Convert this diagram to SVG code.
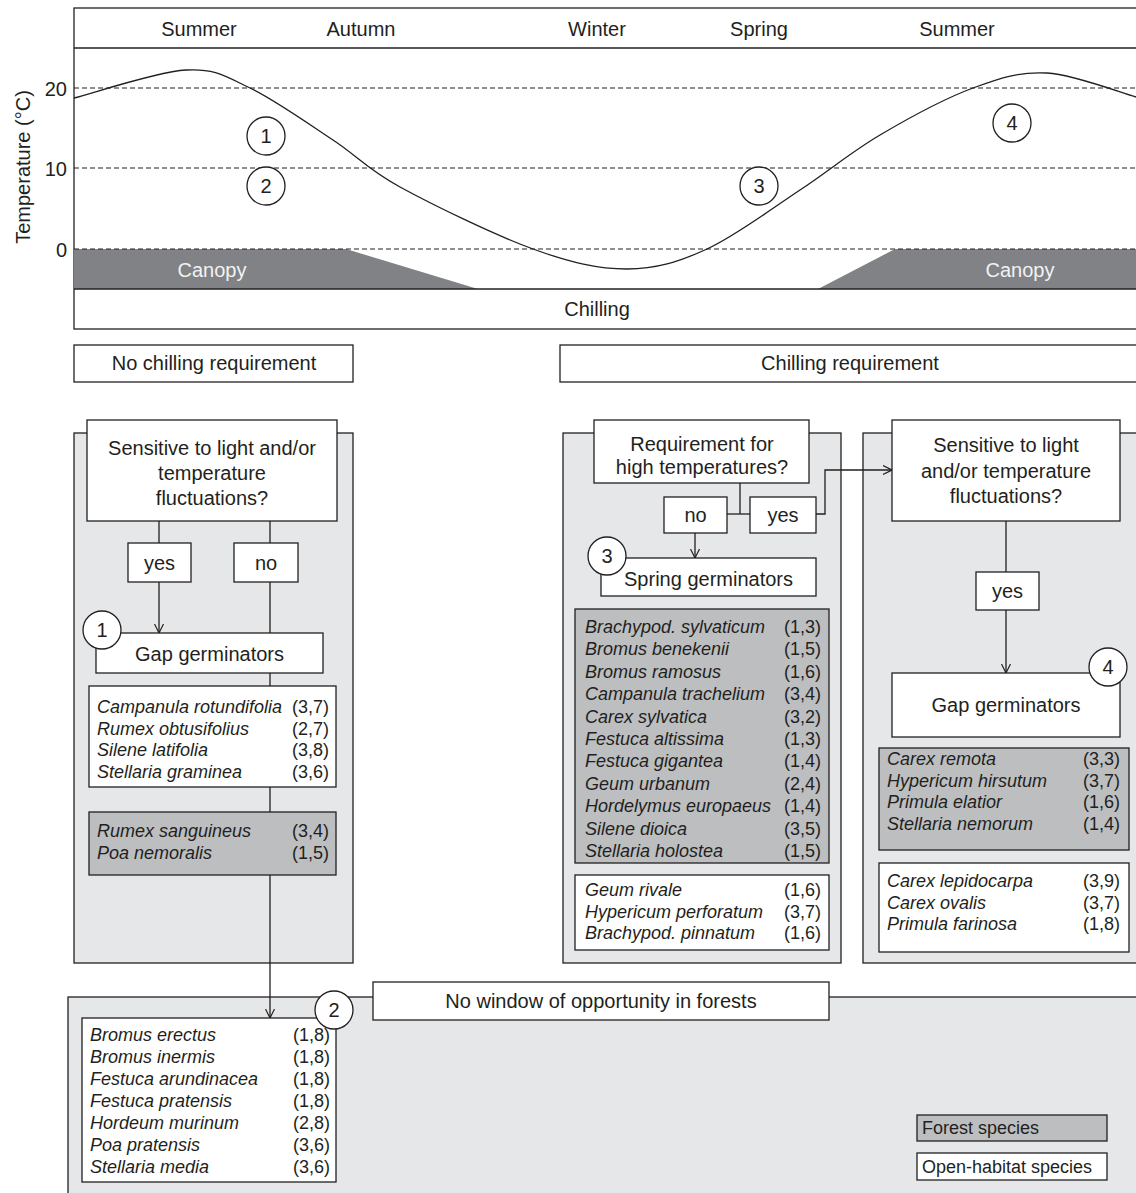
<svg xmlns="http://www.w3.org/2000/svg" width="1136" height="1193" viewBox="0 0 1136 1193">
<defs>
<style>
.t{font-family:"Liberation Sans",Arial,Helvetica,sans-serif;fill:#231f20}
.h{font-size:20px;text-anchor:middle}
.l{font-size:18px;font-style:italic}
.n{font-size:18px;text-anchor:end}
.box{fill:#fff;stroke:#231f20;stroke-width:1.3}
.panel{fill:#e6e7e8;stroke:#231f20;stroke-width:1.3}
.forest{fill:#bcbec0;stroke:#231f20;stroke-width:1.3}
.ln{fill:none;stroke:#231f20;stroke-width:1.3}
.dash{stroke:#231f20;stroke-width:1;stroke-dasharray:5 3}
.circ{fill:#fff;stroke:#231f20;stroke-width:1.3}
</style>
<marker id="arr" viewBox="0 0 10 10" refX="10" refY="5" markerWidth="9" markerHeight="11" markerUnits="userSpaceOnUse" orient="auto">
<path d="M0,0 L10,5 L0,10" fill="none" stroke="#231f20" stroke-width="1.3"/>
</marker>
</defs>
<rect width="1136" height="1193" fill="#fff"/>

<!-- Top chart -->
<g id="chart">
<rect x="74" y="8" width="1100" height="321" fill="#fff" stroke="#231f20" stroke-width="1.3"/>
<line x1="74" y1="48" x2="1136" y2="48" class="ln"/>
<polygon points="74,249 346,249 478,289 74,289" fill="#808285"/>
<polygon points="895,249 1136,249 1136,289 818,289" fill="#808285"/>
<line x1="74" y1="88" x2="1136" y2="88" class="dash"/>
<line x1="74" y1="168" x2="1136" y2="168" class="dash"/>
<line x1="74" y1="249" x2="1136" y2="249" class="dash"/>
<line x1="74" y1="289" x2="1136" y2="289" class="ln"/>
<path class="ln" stroke-width="1.6" d="M74,98 C92.7,93.3 156.7,71.7 186,70 C215.3,68.3 225.5,76.3 250,88 C274.5,99.7 308,123.5 333,140 C358,156.5 366.7,168.8 400,187 C433.3,205.2 495.2,235.3 533,249 C570.8,262.7 598,269 627,269 C656,269 678.2,262.2 707,249 C735.8,235.8 771.2,209 800,190 C828.8,171 851.2,152 880,135 C908.8,118 945.2,98.3 973,88 C1000.8,77.7 1019.8,71.5 1047,73 C1074.2,74.5 1121.2,93 1136,97"/>
<text class="t h" x="199" y="36">Summer</text>
<text class="t h" x="361" y="36">Autumn</text>
<text class="t h" x="597" y="36">Winter</text>
<text class="t h" x="759" y="36">Spring</text>
<text class="t h" x="957" y="36">Summer</text>
<text class="t h" x="212" y="277" style="fill:#f2f2f2">Canopy</text>
<text class="t h" x="1020" y="277" style="fill:#f2f2f2">Canopy</text>
<text class="t h" x="597" y="316">Chilling</text>
<text class="t" font-size="20" text-anchor="end" x="67" y="96">20</text>
<text class="t" font-size="20" text-anchor="end" x="67" y="176">10</text>
<text class="t" font-size="20" text-anchor="end" x="67" y="257">0</text>
<text class="t h" transform="translate(30,167) rotate(-90)">Temperature (°C)</text>
<circle class="circ" cx="266" cy="136" r="19"/><text class="t h" x="266" y="143">1</text>
<circle class="circ" cx="266" cy="186" r="19"/><text class="t h" x="266" y="193">2</text>
<circle class="circ" cx="759" cy="186" r="19"/><text class="t h" x="759" y="193">3</text>
<circle class="circ" cx="1012" cy="123" r="19"/><text class="t h" x="1012" y="130">4</text>
</g>

<g id="no-chilling-label">
<rect class="box" x="74" y="345" width="279" height="37"/>
<text class="t h" x="214" y="370">No chilling requirement</text>
</g>
<g id="chilling-label">
<rect class="box" x="560" y="345" width="600" height="37"/>
<text class="t h" x="850" y="370">Chilling requirement</text>
</g>

<!-- Panels (backgrounds) -->
<g id="panel-left"><rect class="panel" x="74" y="433" width="279" height="530"/></g>
<g id="panel-middle"><rect class="panel" x="563" y="433" width="278" height="530"/></g>
<g id="panel-right"><rect class="panel" x="863" y="433" width="300" height="530"/></g>
<g id="panel-bottom"><rect class="panel" x="68" y="997" width="1100" height="220"/></g>

<!-- Connectors -->
<g id="connectors">
<line class="ln" x1="159" y1="521" x2="159" y2="543"/>
<line class="ln" x1="159" y1="582" x2="159" y2="633" marker-end="url(#arr)"/>
<line class="ln" x1="270" y1="521" x2="270" y2="543"/>
<line class="ln" x1="270" y1="582" x2="270" y2="633"/>
<line class="ln" x1="270" y1="673" x2="270" y2="686"/>
<line class="ln" x1="270" y1="787" x2="270" y2="812"/>
<line class="ln" x1="270" y1="875" x2="270" y2="1018" marker-end="url(#arr)"/>
<polyline class="ln" points="740,483 740,514"/>
<line class="ln" x1="727" y1="514" x2="750" y2="514"/>
<line class="ln" x1="695" y1="533" x2="695" y2="558" marker-end="url(#arr)"/>
<polyline class="ln" points="816,514 825,514 825,470 892,470" marker-end="url(#arr)"/>
<line class="ln" x1="1006" y1="521" x2="1006" y2="572"/>
<line class="ln" x1="1006" y1="610" x2="1006" y2="673" marker-end="url(#arr)"/>
</g>

<!-- Left panel nodes -->
<g id="q-left">
<rect class="box" x="87" y="420" width="250" height="101"/>
<text class="t h" x="212" y="455">Sensitive to light and/or</text>
<text class="t h" x="212" y="480">temperature</text>
<text class="t h" x="212" y="505">fluctuations?</text>
</g>
<g id="yes-left"><rect class="box" x="128" y="543" width="63" height="39"/><text class="t h" x="159.5" y="570">yes</text></g>
<g id="no-left"><rect class="box" x="234" y="543" width="64" height="39"/><text class="t h" x="266" y="570">no</text></g>
<g id="gap-left">
<rect class="box" x="96" y="633" width="227" height="40"/>
<text class="t h" x="209.5" y="661">Gap germinators</text>
<circle class="circ" cx="102" cy="630" r="19"/><text class="t h" x="102" y="637">1</text>
</g>
<g id="list-left-open">
<rect class="box" x="89" y="686" width="247" height="101"/>
<text class="t l" x="97" y="713">Campanula rotundifolia</text><text class="t n" x="329" y="713">(3,7)</text>
<text class="t l" x="97" y="734.7">Rumex obtusifolius</text><text class="t n" x="329" y="734.7">(2,7)</text>
<text class="t l" x="97" y="756.3">Silene latifolia</text><text class="t n" x="329" y="756.3">(3,8)</text>
<text class="t l" x="97" y="778">Stellaria graminea</text><text class="t n" x="329" y="778">(3,6)</text>
</g>
<g id="list-left-forest">
<rect class="forest" x="89" y="812" width="247" height="63"/>
<text class="t l" x="97" y="837">Rumex sanguineus</text><text class="t n" x="329" y="837">(3,4)</text>
<text class="t l" x="97" y="859">Poa nemoralis</text><text class="t n" x="329" y="859">(1,5)</text>
</g>

<!-- Middle panel nodes -->
<g id="q-middle">
<rect class="box" x="594" y="420" width="215" height="63"/>
<text class="t h" x="702" y="451">Requirement for</text>
<text class="t h" x="702" y="474">high temperatures?</text>
</g>
<g id="no-middle"><rect class="box" x="664" y="497" width="63" height="36"/><text class="t h" x="695.5" y="522">no</text></g>
<g id="yes-middle"><rect class="box" x="750" y="497" width="66" height="36"/><text class="t h" x="783" y="522">yes</text></g>
<g id="spring">
<rect class="box" x="601" y="558" width="215" height="38"/>
<text class="t h" x="708.5" y="586">Spring germinators</text>
<circle class="circ" cx="607" cy="556" r="19"/><text class="t h" x="607" y="563">3</text>
</g>
<g id="list-middle-forest">
<rect class="forest" x="575" y="609" width="254" height="254"/>
<text class="t l" x="585" y="633">Brachypod. sylvaticum</text><text class="t n" x="821" y="633">(1,3)</text>
<text class="t l" x="585" y="655.4">Bromus benekenii</text><text class="t n" x="821" y="655.4">(1,5)</text>
<text class="t l" x="585" y="677.8">Bromus ramosus</text><text class="t n" x="821" y="677.8">(1,6)</text>
<text class="t l" x="585" y="700.2">Campanula trachelium</text><text class="t n" x="821" y="700.2">(3,4)</text>
<text class="t l" x="585" y="722.6">Carex sylvatica</text><text class="t n" x="821" y="722.6">(3,2)</text>
<text class="t l" x="585" y="745">Festuca altissima</text><text class="t n" x="821" y="745">(1,3)</text>
<text class="t l" x="585" y="767.4">Festuca gigantea</text><text class="t n" x="821" y="767.4">(1,4)</text>
<text class="t l" x="585" y="789.8">Geum urbanum</text><text class="t n" x="821" y="789.8">(2,4)</text>
<text class="t l" x="585" y="812.2">Hordelymus europaeus</text><text class="t n" x="821" y="812.2">(1,4)</text>
<text class="t l" x="585" y="834.6">Silene dioica</text><text class="t n" x="821" y="834.6">(3,5)</text>
<text class="t l" x="585" y="857">Stellaria holostea</text><text class="t n" x="821" y="857">(1,5)</text>
</g>
<g id="list-middle-open">
<rect class="box" x="575" y="875" width="254" height="75"/>
<text class="t l" x="585" y="896">Geum rivale</text><text class="t n" x="821" y="896">(1,6)</text>
<text class="t l" x="585" y="917.5">Hypericum perforatum</text><text class="t n" x="821" y="917.5">(3,7)</text>
<text class="t l" x="585" y="939">Brachypod. pinnatum</text><text class="t n" x="821" y="939">(1,6)</text>
</g>

<!-- Right panel nodes -->
<g id="q-right">
<rect class="box" x="892" y="420" width="228" height="101"/>
<text class="t h" x="1006" y="452">Sensitive to light</text>
<text class="t h" x="1006" y="478">and/or temperature</text>
<text class="t h" x="1006" y="503">fluctuations?</text>
</g>
<g id="yes-right"><rect class="box" x="976" y="572" width="63" height="38"/><text class="t h" x="1007.5" y="598">yes</text></g>
<g id="gap-right">
<rect class="box" x="892" y="673" width="228" height="64"/>
<text class="t h" x="1006" y="712">Gap germinators</text>
<circle class="circ" cx="1108" cy="667" r="19"/><text class="t h" x="1108" y="674">4</text>
</g>
<g id="list-right-forest">
<rect class="forest" x="879" y="748" width="250" height="102"/>
<text class="t l" x="887" y="765">Carex remota</text><text class="t n" x="1120" y="765">(3,3)</text>
<text class="t l" x="887" y="786.7">Hypericum hirsutum</text><text class="t n" x="1120" y="786.7">(3,7)</text>
<text class="t l" x="887" y="808.3">Primula elatior</text><text class="t n" x="1120" y="808.3">(1,6)</text>
<text class="t l" x="887" y="830">Stellaria nemorum</text><text class="t n" x="1120" y="830">(1,4)</text>
</g>
<g id="list-right-open">
<rect class="box" x="879" y="863" width="250" height="89"/>
<text class="t l" x="887" y="887">Carex lepidocarpa</text><text class="t n" x="1120" y="887">(3,9)</text>
<text class="t l" x="887" y="908.5">Carex ovalis</text><text class="t n" x="1120" y="908.5">(3,7)</text>
<text class="t l" x="887" y="930">Primula farinosa</text><text class="t n" x="1120" y="930">(1,8)</text>
</g>

<!-- Bottom panel nodes -->
<g id="no-window">
<rect class="box" x="373" y="982" width="456" height="38"/>
<text class="t h" x="601" y="1008">No window of opportunity in forests</text>
</g>
<g id="list-bottom">
<rect class="box" x="82" y="1018" width="254" height="164"/>
<text class="t l" x="90" y="1041">Bromus erectus</text><text class="t n" x="330" y="1041">(1,8)</text>
<text class="t l" x="90" y="1063">Bromus inermis</text><text class="t n" x="330" y="1063">(1,8)</text>
<text class="t l" x="90" y="1085">Festuca arundinacea</text><text class="t n" x="330" y="1085">(1,8)</text>
<text class="t l" x="90" y="1107">Festuca pratensis</text><text class="t n" x="330" y="1107">(1,8)</text>
<text class="t l" x="90" y="1129">Hordeum murinum</text><text class="t n" x="330" y="1129">(2,8)</text>
<text class="t l" x="90" y="1151">Poa pratensis</text><text class="t n" x="330" y="1151">(3,6)</text>
<text class="t l" x="90" y="1173">Stellaria media</text><text class="t n" x="330" y="1173">(3,6)</text>
<circle class="circ" cx="334" cy="1010" r="19"/><text class="t h" x="334" y="1017">2</text>
</g>

<g id="legend">
<rect class="forest" x="917" y="1115" width="190" height="26"/>
<text class="t" font-size="18" x="922" y="1134">Forest species</text>
<rect class="box" x="917" y="1153" width="190" height="27"/>
<text class="t" font-size="18" x="922" y="1173">Open-habitat species</text>
</g>
</svg>
